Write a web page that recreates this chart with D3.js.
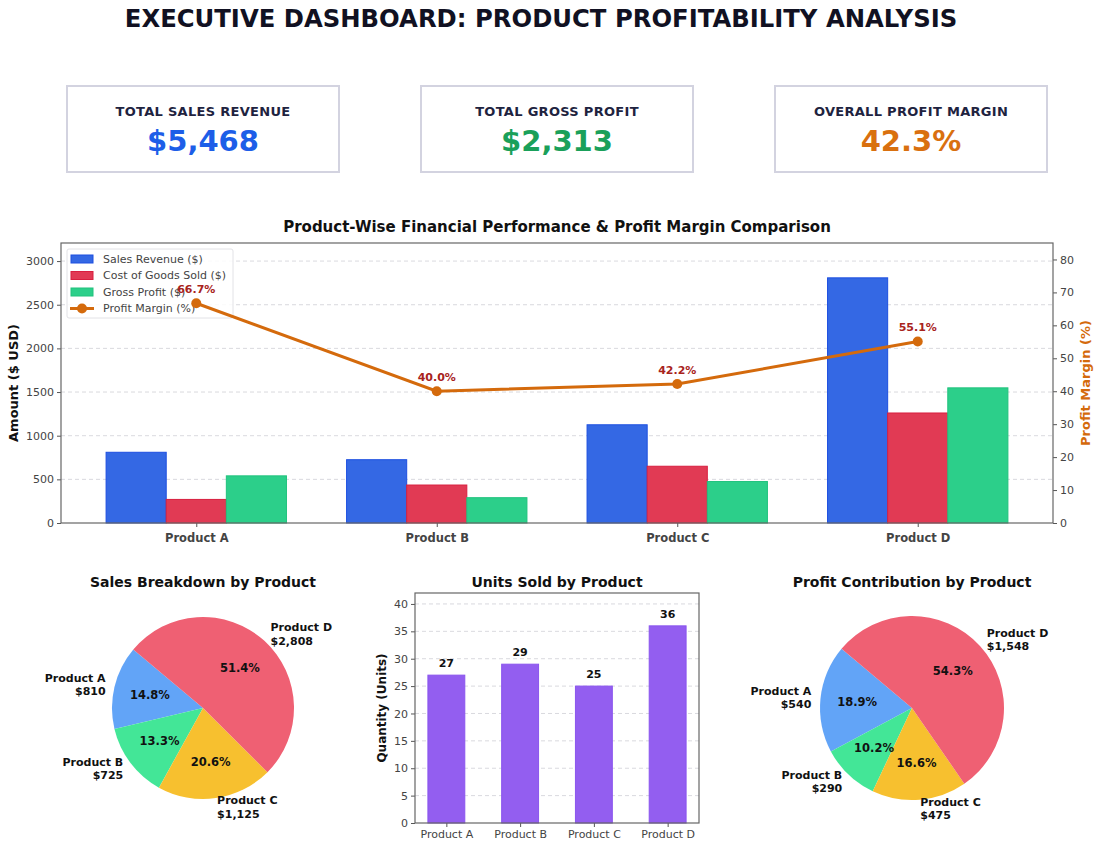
<!DOCTYPE html>
<html>
<head>
<meta charset="utf-8">
<script src="https://cdn.jsdelivr.net/npm/d3@7"></script>
<style>
  body { margin: 0; background: #fff; }
  svg { font-family: "DejaVu Sans", sans-serif; }
  .tick text { fill: #444; }
  .tick line { stroke: #555; }
</style>
</head>
<body>
<div id="chart"></div>
<script>
// data
var products = ["Product A", "Product B", "Product C", "Product D"];
var salesRevenue = [810, 725, 1125, 2808];
var costOfGoods = [270, 435, 650, 1260];
var grossProfit = [540, 290, 475, 1548];
var profitMargin = [66.7, 40.0, 42.2, 55.1];
var unitsSold = [27, 29, 25, 36];

var kpiLabels = ["TOTAL SALES REVENUE", "TOTAL GROSS PROFIT", "OVERALL PROFIT MARGIN"];
var kpiValues = ["$5,468", "$2,313", "42.3%"];

var amountTicks = [0, 500, 1000, 1500, 2000, 2500, 3000];
var marginTicks = [0, 10, 20, 30, 40, 50, 60, 70, 80];
var unitTicks = [0, 5, 10, 15, 20, 25, 30, 35, 40];

var seriesNames = ["Sales Revenue ($)", "Cost of Goods Sold ($)", "Gross Profit ($)"];

var W = 1100, H = 850;
var svg = d3.select("#chart").append("svg").attr("width", W).attr("height", H);

svg.append("text")
	.attr("x", 541).attr("y", 27)
	.attr("text-anchor", "middle")
	.attr("font-size", 24.3).attr("font-weight", "bold").attr("fill", "#111122")
	.text("EXECUTIVE DASHBOARD: PRODUCT PROFITABILITY ANALYSIS");

// KPI cards
var kpiColors = ["#1d5ee8", "#1aa05a", "#d9700f"];
var kpiX = d3.scaleBand().domain(d3.range(3)).range([67, 1047]).paddingInner(82 / 354);
var kpi = svg.selectAll("g.kpi").data(kpiLabels).enter().append("g")
	.attr("transform", function (d, i) { return "translate(" + kpiX(i) + ",86)"; });
kpi.append("rect")
	.attr("width", kpiX.bandwidth()).attr("height", 86)
	.attr("fill", "#fff").attr("stroke", "#d3d3e0").attr("stroke-width", 2);
kpi.append("text")
	.attr("x", kpiX.bandwidth() / 2).attr("y", 30)
	.attr("text-anchor", "middle").attr("font-size", 13).attr("font-weight", "bold")
	.attr("fill", "#1e2340").attr("letter-spacing", 0.3)
	.text(function (d) { return d; });
kpi.append("text")
	.attr("x", kpiX.bandwidth() / 2).attr("y", 65)
	.attr("text-anchor", "middle").attr("font-size", 29).attr("font-weight", "bold")
	.attr("fill", function (d, i) { return kpiColors[i]; })
	.text(function (d, i) { return kpiValues[i]; });

// ---------- main combo chart ----------
var m = { left: 61, right: 1053, top: 243, bottom: 523 };
var x = d3.scaleLinear().domain([-0.5625, 3.5625]).range([m.left, m.right]);
var y = d3.scaleLinear().domain([0, 3207]).range([m.bottom, m.top]);
var y2 = d3.scaleLinear().domain([0, 85]).range([m.bottom, m.top]);

svg.append("text")
	.attr("x", (m.left + m.right) / 2).attr("y", 232)
	.attr("text-anchor", "middle").attr("font-size", 15).attr("font-weight", "bold").attr("fill", "#111")
	.text("Product-Wise Financial Performance & Profit Margin Comparison");

var main = svg.append("g");
main.selectAll("line.grid").data(amountTicks.slice(1)).enter().append("line")
	.attr("x1", m.left).attr("x2", m.right)
	.attr("y1", function (d) { return y(d); }).attr("y2", function (d) { return y(d); })
	.attr("stroke", "#cfcfd6").attr("stroke-dasharray", "4,3").attr("stroke-width", 0.8);

var barFill = ["#3468e4", "#e13a54", "#2ccf8a"];
var barEdge = ["#1d4fe0", "#d81f3f", "#20c27d"];
var series = [salesRevenue, costOfGoods, grossProfit];
var bw = 0.25;
series.forEach(function (vals, s) {
	main.append("g").selectAll("rect").data(vals).enter().append("rect")
		.attr("x", function (d, i) { return x(i + (s - 1) * bw - bw / 2); })
		.attr("width", x(bw) - x(0))
		.attr("y", function (d) { return y(d); })
		.attr("height", function (d) { return y(0) - y(d); })
		.attr("fill", barFill[s]).attr("stroke", barEdge[s]).attr("stroke-width", 1);
});

var lineColor = "#d46a0c";

// legend (belongs to the bar axes, so the margin line sits above it)
var lg = main.append("g").attr("transform", "translate(67,249)");
lg.append("rect").attr("width", 166).attr("height", 69).attr("rx", 2)
	.attr("fill", "#fff").attr("fill-opacity", 0.85).attr("stroke", "#e2e2e6");
seriesNames.forEach(function (name, s) {
	var gy = 10 + s * 16.5;
	lg.append("rect").attr("x", 4).attr("y", gy - 4).attr("width", 22).attr("height", 8)
		.attr("fill", barFill[s]).attr("stroke", barEdge[s]);
	lg.append("text").attr("x", 36).attr("y", gy).attr("dy", "0.35em")
		.attr("font-size", 11).attr("fill", "#444").text(name);
});
var ly = 10 + 3 * 16.5;
lg.append("line").attr("x1", 3).attr("x2", 27).attr("y1", ly).attr("y2", ly)
	.attr("stroke", lineColor).attr("stroke-width", 3);
lg.append("circle").attr("cx", 15).attr("cy", ly).attr("r", 5).attr("fill", lineColor);
lg.append("text").attr("x", 36).attr("y", ly).attr("dy", "0.35em")
	.attr("font-size", 11).attr("fill", "#444").text("Profit Margin (%)");

var line = d3.line()
	.x(function (d, i) { return x(i); })
	.y(function (d) { return y2(d); });
main.append("path").datum(profitMargin)
	.attr("d", line).attr("fill", "none").attr("stroke", lineColor).attr("stroke-width", 3);
main.selectAll("circle.pm").data(profitMargin).enter().append("circle")
	.attr("cx", function (d, i) { return x(i); })
	.attr("cy", function (d) { return y2(d); })
	.attr("r", 5).attr("fill", lineColor);

// axes
var axL = main.append("g").attr("transform", "translate(" + m.left + ",0)")
	.call(d3.axisLeft(y).tickValues(amountTicks).tickFormat(d3.format("d")).tickSize(4).tickSizeOuter(0));
var axR = main.append("g").attr("transform", "translate(" + m.right + ",0)")
	.call(d3.axisRight(y2).tickValues(marginTicks).tickFormat(d3.format("d")).tickSize(4).tickSizeOuter(0));
var axB = main.append("g").attr("transform", "translate(0," + m.bottom + ")")
	.call(d3.axisBottom(x).tickValues(d3.range(4)).tickFormat(function (i) { return products[i]; }).tickSize(4).tickSizeOuter(0));
[axL, axR, axB].forEach(function (a) {
	a.select(".domain").remove();
	a.selectAll("text").attr("font-size", 11).attr("font-family", "DejaVu Sans");
});
axB.selectAll("text").attr("font-weight", "bold").attr("fill", "#111").attr("font-size", 11.5).attr("dy", "1em");
main.append("rect")
	.attr("x", m.left).attr("y", m.top).attr("width", m.right - m.left).attr("height", m.bottom - m.top)
	.attr("fill", "none").attr("stroke", "#666").attr("stroke-width", 1.2);

main.selectAll("text.pm").data(profitMargin).enter().append("text")
	.attr("x", function (d, i) { return x(i); })
	.attr("y", function (d) { return y2(d) - 10; })
	.attr("text-anchor", "middle").attr("font-size", 11).attr("font-weight", "bold").attr("fill", "#a8231c")
	.text(function (d) { return d.toFixed(1) + "%"; });

svg.append("text")
	.attr("transform", "translate(18," + (m.top + m.bottom) / 2 + ") rotate(-90)")
	.attr("text-anchor", "middle").attr("font-size", 13).attr("font-weight", "bold").attr("fill", "#111")
	.text("Amount ($ USD)");
svg.append("text")
	.attr("transform", "translate(1090," + (m.top + m.bottom) / 2 + ") rotate(-90)")
	.attr("text-anchor", "middle").attr("font-size", 13).attr("font-weight", "bold").attr("fill", lineColor)
	.text("Profit Margin (%)");

// ---------- pies ----------
var pieColors = ["#62a4f7", "#43e697", "#f7c02f", "#ef6073"];
function money(v) { return "$" + d3.format(",")(v); }

function drawPie(cx, cy, r, vals, title) {
	var g = svg.append("g").attr("transform", "translate(" + cx + "," + cy + ")");
	svg.append("text").attr("x", cx).attr("y", 587)
		.attr("text-anchor", "middle").attr("font-size", 14).attr("font-weight", "bold").attr("fill", "#111")
		.text(title);
	var start = (90 - 140) * Math.PI / 180;
	var pie = d3.pie().sort(null).startAngle(start).endAngle(start - 2 * Math.PI);
	var arcs = pie(vals);
	var total = d3.sum(vals);
	var arc = d3.arc().innerRadius(0).outerRadius(r);
	g.selectAll("path").data(arcs).enter().append("path")
		.attr("d", arc).attr("fill", function (d, i) { return pieColors[i]; });
	arcs.forEach(function (d, i) {
		var a = (d.startAngle + d.endAngle) / 2;
		var px = Math.sin(a) * r * 0.6, py = -Math.cos(a) * r * 0.6;
		g.append("text").attr("x", px).attr("y", py).attr("dy", "0.35em")
			.attr("text-anchor", "middle").attr("font-size", 11.5).attr("font-weight", "bold").attr("fill", "#111")
			.text((d.value / total * 100).toFixed(1) + "%");
		var lx = Math.sin(a) * r * 1.1, lyy = -Math.cos(a) * r * 1.1;
		var t = g.append("text").attr("x", lx).attr("y", lyy)
			.attr("text-anchor", lx > 0 ? "start" : "end")
			.attr("font-size", 11).attr("font-weight", "bold").attr("fill", "#111");
		t.append("tspan").attr("x", lx).attr("dy", "-0.25em").text(products[i]);
		t.append("tspan").attr("x", lx).attr("dy", "1.2em").text(money(d.value));
	});
}
drawPie(203, 708, 91, salesRevenue, "Sales Breakdown by Product");
drawPie(912, 708, 92, grossProfit, "Profit Contribution by Product");

// ---------- units bar chart ----------
var u = { left: 415, right: 699, top: 593, bottom: 823 };
var ux = d3.scaleLinear().domain([-0.425, 3.425]).range([u.left, u.right]);
var uy = d3.scaleLinear().domain([0, 42]).range([u.bottom, u.top]);
var ug = svg.append("g");
svg.append("text").attr("x", (u.left + u.right) / 2).attr("y", 587)
	.attr("text-anchor", "middle").attr("font-size", 14).attr("font-weight", "bold").attr("fill", "#111")
	.text("Units Sold by Product");
ug.selectAll("line.grid").data(unitTicks.slice(1)).enter().append("line")
	.attr("x1", u.left).attr("x2", u.right)
	.attr("y1", function (d) { return uy(d); }).attr("y2", function (d) { return uy(d); })
	.attr("stroke", "#cfcfd6").attr("stroke-dasharray", "4,3").attr("stroke-width", 0.8);
ug.selectAll("rect.bar").data(unitsSold).enter().append("rect")
	.attr("x", function (d, i) { return ux(i - 0.25); })
	.attr("width", ux(0.5) - ux(0))
	.attr("y", function (d) { return uy(d); })
	.attr("height", function (d) { return uy(0) - uy(d); })
	.attr("fill", "#935ef0").attr("stroke", "#8a55ee").attr("stroke-width", 1);
ug.selectAll("text.val").data(unitsSold).enter().append("text")
	.attr("x", function (d, i) { return ux(i); })
	.attr("y", function (d) { return uy(d) - 8; })
	.attr("text-anchor", "middle").attr("font-size", 11).attr("font-weight", "bold").attr("fill", "#111")
	.text(function (d) { return d; });
var uL = ug.append("g").attr("transform", "translate(" + u.left + ",0)")
	.call(d3.axisLeft(uy).tickValues(unitTicks).tickSize(4).tickSizeOuter(0));
var uB = ug.append("g").attr("transform", "translate(0," + u.bottom + ")")
	.call(d3.axisBottom(ux).tickValues(d3.range(4)).tickFormat(function (i) { return products[i]; }).tickSize(4).tickSizeOuter(0));
[uL, uB].forEach(function (a) {
	a.select(".domain").remove();
	a.selectAll("text").attr("font-size", 11).attr("font-family", "DejaVu Sans");
});
ug.append("rect")
	.attr("x", u.left).attr("y", u.top).attr("width", u.right - u.left).attr("height", u.bottom - u.top)
	.attr("fill", "none").attr("stroke", "#666").attr("stroke-width", 1.2);
svg.append("text")
	.attr("transform", "translate(386," + (u.top + u.bottom) / 2 + ") rotate(-90)")
	.attr("text-anchor", "middle").attr("font-size", 12).attr("font-weight", "bold").attr("fill", "#111")
	.text("Quantity (Units)");
</script>
</body>
</html>
